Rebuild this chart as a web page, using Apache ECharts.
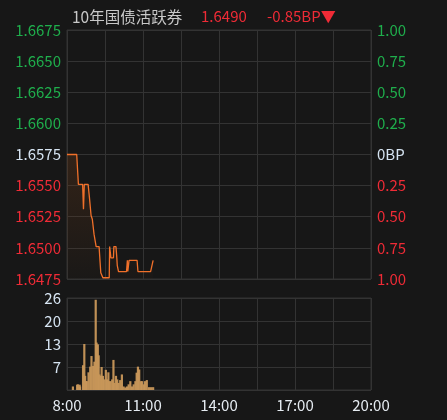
<!DOCTYPE html>
<html><head><meta charset="utf-8">
<script src="https://cdn.jsdelivr.net/npm/echarts@6/dist/echarts.min.js"></script>
<style>html,body{margin:0;padding:0;background:#171717;}#c{width:447px;height:420px;}</style>
</head><body><div id="c"></div>
<script>
// minutes since 8:00
const priceTimes = [0,23,27,37,39,41,50,53,57,60,64,69,76,80,85,100,101,104,110,111,116,118,119,122,141,143,144,147,166,168,198,204];
const priceValues = [1.6575,1.6575,1.6551,1.6551,1.6531,1.6551,1.6551,1.6541,1.6526,1.6523,1.6511,1.6501,1.6501,1.6480,1.6476,1.6476,1.6501,1.6492,1.6492,1.6501,1.6501,1.6492,1.6486,1.6481,1.6481,1.6490,1.6481,1.6490,1.6490,1.6481,1.6481,1.6490];
const volTimes = [14,24,26,30,31,38,41,43,45,47,51,55,58,62,65,68,70,73,75,77,80,82,85,88,92,95,98,100,103,107,110,112,116,119,122,126,130,134,138,142,146,150,154,158,162,165,168,171,175,178,182,185,189,194,199,204];
const volValues = [1,1.5,1.6,1.5,1,7,13,4,2.5,2.5,5,6.6,9.6,6.8,8,25.5,13.4,12.9,9.8,4.4,4,6.5,4,3,5.7,3,5,2.5,2.5,3,8.5,2,4,3,2,2.8,4.4,1,0.7,1,1.6,2.5,1,1.6,2.5,4.9,6.6,5.8,2.5,2.5,1.6,2.5,2.8,0.8,0.8,0.8];
const timeLabels = {0:'8:00',180:'11:00',360:'14:00',540:'17:00',720:'20:00'};
const titleName = '10年国债活跃券';
const lastPrice = '1.6490';
const changeText = '-0.85BP▼';
const basePrice = 1.6575;

const GREEN = '#1fae4c', RED = '#ef2b36', NEUT = '#d6e4f2', GRID = '#333333';
const font = '"Noto Sans CJK SC", "Noto Sans", sans-serif';
const chart = echarts.init(document.getElementById('c'));
chart.setOption({
  backgroundColor: '#171717',
  animation: false,
  title: [
    {text: titleName, left: 67, top: 4, textStyle: {color: '#c8c8c8', fontSize: 15.5, fontWeight: 'normal', fontFamily: font}},
    {text: lastPrice, left: 196, top: 4, textStyle: {color: RED, fontSize: 15, fontWeight: 'normal', fontFamily: font}},
    {text: changeText, left: 262, top: 4, textStyle: {color: RED, fontSize: 15, fontWeight: 'normal', fontFamily: font}}
  ],
  grid: [
    {left: 67, right: 76, top: 30, height: 249, show: true, borderColor: GRID, borderWidth: 1, backgroundColor: 'transparent'},
    {left: 67, right: 76, top: 298, height: 92, show: true, borderColor: GRID, borderWidth: 1, backgroundColor: 'transparent'}
  ],
  xAxis: [
    {type: 'value', gridIndex: 0, min: 0, max: 720, interval: 90, axisLabel: {show: false}, axisTick: {show: false}, axisLine: {show: false}, splitLine: {show: true, lineStyle: {color: GRID}}},
    {type: 'value', gridIndex: 1, min: 0, max: 720, interval: 90, axisTick: {show: false}, axisLine: {show: false}, splitLine: {show: true, lineStyle: {color: GRID}},
      axisLabel: {color: '#e6ecf2', fontSize: 15, fontFamily: font, margin: 8, formatter: v => timeLabels[v] || ''}}
  ],
  yAxis: [
    {type: 'value', gridIndex: 0, min: 1.6475, max: 1.6675, interval: 0.0025, position: 'left', axisTick: {show: false}, axisLine: {show: false}, splitLine: {show: true, lineStyle: {color: GRID}},
      axisLabel: {fontSize: 15, fontFamily: font, margin: 6, formatter: v => v.toFixed(4),
        color: v => Math.abs(v - basePrice) < 1e-7 ? NEUT : (v > basePrice ? GREEN : RED)}},
    {type: 'value', gridIndex: 0, min: -1, max: 1, interval: 0.25, position: 'right', axisTick: {show: false}, axisLine: {show: false}, splitLine: {show: false},
      axisLabel: {fontSize: 15, fontFamily: font, margin: 6, formatter: v => Math.abs(v) < 1e-9 ? '0BP' : Math.abs(v).toFixed(2),
        color: v => Math.abs(v) < 1e-9 ? NEUT : (v > 0 ? GREEN : RED)}},
    {type: 'value', gridIndex: 1, min: 0, max: 26, interval: 6.5, axisTick: {show: false}, axisLine: {show: false}, splitLine: {show: true, lineStyle: {color: GRID}},
      axisLabel: {color: NEUT, fontSize: 15, fontFamily: font, margin: 6, formatter: v => v === 0 ? '' : String(Math.round(v))}}
  ],
  series: [
    {type: 'line', xAxisIndex: 0, yAxisIndex: 0, data: priceTimes.map((t, i) => [t, priceValues[i]]), symbol: 'none',
      lineStyle: {color: '#f0702a', width: 1.3},
      areaStyle: {color: new echarts.graphic.LinearGradient(0, 0, 0, 1, [{offset: 0, color: 'rgba(110,60,25,0.45)'}, {offset: 1, color: 'rgba(110,60,25,0.05)'}])}},
    {type: 'bar', xAxisIndex: 1, yAxisIndex: 2, data: volTimes.map((t, i) => [t, volValues[i]]), barWidth: 2.2,
      itemStyle: {color: '#c8975a', opacity: 0.95}}
  ]
});
</script></body></html>
